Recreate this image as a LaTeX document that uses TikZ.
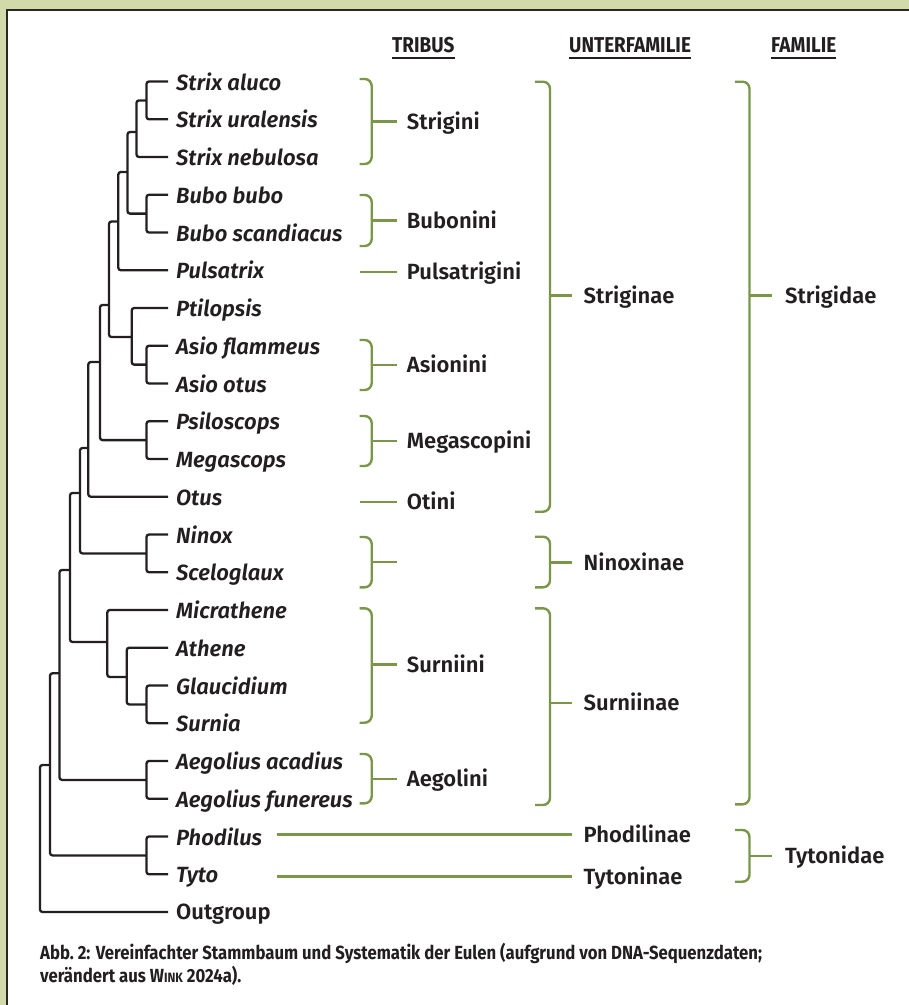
\documentclass[tikz,border=0pt]{standalone}
\usepackage{fontspec}
\setmainfont{Fira Sans}[UprightFont={* SemiBold}, ItalicFont={* SemiBold Italic}, BoldFont={* Bold}]
\newfontfamily\headfont{Fira Sans}[UprightFont={* Bold}, FakeStretch=0.88]
\newfontfamily\capfont{Fira Sans}[UprightFont={* Bold}, FakeStretch=0.88]
\usetikzlibrary{positioning}
\definecolor{framegreen}{RGB}{211,218,170}
\definecolor{framedark}{RGB}{40,40,40}
\definecolor{treeline}{RGB}{35,31,32}
\definecolor{bracegreen}{RGB}{122,150,72}
\tikzset{
  tree/.style={draw=treeline, line width=2.3pt, rounded corners=2.5pt},
  brace/.style={draw=bracegreen, line width=2.4pt, rounded corners=7pt},
  tick/.style={draw=bracegreen, line width=2.4pt},
  tip/.style={anchor=base west, inner sep=0pt, text=treeline, font=\fontsize{22}{24}\selectfont\itshape},
  grp/.style={anchor=base west, inner sep=0pt, text=treeline, font=\fontsize{22}{24}\selectfont},
  head/.style={anchor=base west, inner sep=0pt, text=treeline, font=\headfont\fontsize{21.5}{24}\selectfont},
}
\begin{document}
\begin{tikzpicture}[x=1pt, y=-1pt]
		\useasboundingbox (0,0) rectangle (909,1005);
		\fill[framegreen] (0,0) rectangle (909,1005);
		\fill[white] (7,10) rectangle (909,1005);
		\draw[framedark, line width=1.2pt] (7,1005) -- (7,10) -- (909,10);
		
		% tips
		\foreach \txt [count=\i] in {Strix aluco, Strix uralensis, Strix nebulosa, Bubo bubo, Bubo scandiacus, Pulsatrix, Ptilopsis, Asio flammeus, Asio otus, Psiloscops, Megascops, Otus, Ninox, Sceloglaux, Micrathene, Athene, Glaucidium, Surnia, Aegolius acadius, Aegolius funereus, Phodilus, Tyto}{
			\coordinate (t\i) at (168,{81.5+37.75*(\i-1)});
			\node[tip] (lab\i) at ([xshift=8pt, yshift=-8.5pt]t\i) {\txt};
		}
		\coordinate (t23) at (168,912);
		\node[grp] (lab23) at ([xshift=8pt, yshift=-7.5pt]t23) {Outgroup};
		
		% inner nodes
		\coordinate (n1) at (146.5,100.4);
		\coordinate (n2) at (136.5,132);
		\coordinate (n3) at (146.5,213.6);
		\coordinate (n4) at (127.5,172);
		\coordinate (n5) at (118.3,221.5);
		\coordinate (n6) at (146.5,364.6);
		\coordinate (n7) at (131.7,337);
		\coordinate (n8) at (109,305);
		\coordinate (n9) at (146.5,440.1);
		\coordinate (n10) at (100,362);
		\coordinate (n11) at (88.3,448);
		\coordinate (n12) at (146.5,553.4);
		\coordinate (n13) at (80,493);
		\coordinate (n14) at (146.5,704.4);
		\coordinate (n15) at (126.7,677);
		\coordinate (n16) at (107.3,642);
		\coordinate (n17) at (70,570);
		\coordinate (n18) at (146.5,779.9);
		\coordinate (n19) at (59.5,673.3);
		\coordinate (n20) at (146.5,855.4);
		\coordinate (n21) at (50,765);
		\coordinate (n22) at (40,838);
		
		\draw[tree] (t1) -| (n1) |- (t2);
		\draw[tree] (n1) -| (n2) |- (t3);
		\draw[tree] (t4) -| (n3) |- (t5);
		\draw[tree] (n2) -| (n4) |- (n3);
		\draw[tree] (n4) -| (n5) |- (t6);
		\draw[tree] (t8) -| (n6) |- (t9);
		\draw[tree] (t7) -| (n7) |- (n6);
		\draw[tree] (n5) -| (n8) |- (n7);
		\draw[tree] (t10) -| (n9) |- (t11);
		\draw[tree] (n8) -| (n10) |- (n9);
		\draw[tree] (n10) -| (n11) |- (t12);
		\draw[tree] (t13) -| (n12) |- (t14);
		\draw[tree] (n11) -| (n13) |- (n12);
		\draw[tree] (t17) -| (n14) |- (t18);
		\draw[tree] (t16) -| (n15) |- (n14);
		\draw[tree] (t15) -| (n16) |- (n15);
		\draw[tree] (n13) -| (n17) |- (n16);
		\draw[tree] (t19) -| (n18) |- (t20);
		\draw[tree] (n17) -| (n19) |- (n18);
		\draw[tree] (t21) -| (n20) |- (t22);
		\draw[tree] (n19) -| (n21) |- (n20);
		\draw[tree] (n21) -| (n22) |- (t23);
		
		% headings
		\node[head] (hTribus) at (392,52.5) {TRIBUS};
		\node[head] (hUnter) at (569,52.5) {UNTERFAMILIE};
		\node[head] (hFamilie) at (771,52.5) {FAMILIE};
		\draw[treeline, line width=1.6pt] ([yshift=-5.5pt]hTribus.base west) -- ([yshift=-5.5pt]hTribus.base east);
		\draw[treeline, line width=1.6pt] ([yshift=-5.5pt]hUnter.base west) -- ([yshift=-5.5pt]hUnter.base east);
		\draw[treeline, line width=1.6pt] ([yshift=-5.5pt]hFamilie.base west) -- ([yshift=-5.5pt]hFamilie.base east);
		
		% tribus
		\draw[brace] (359.5,79) -- (371.7,79) -- (371.7,164) -- (359.5,164);
		\coordinate (bStrigini) at (371.7,121.5);
		\coordinate (cStrigini) at (396.7,121.5);
		\draw[tick] (bStrigini) -- (cStrigini);
		\node[grp] (Strigini) at ([xshift=10pt, yshift=-7.5pt]cStrigini) {Strigini};
		
		\draw[brace] (359.5,195) -- (371.7,195) -- (371.7,246) -- (359.5,246);
		\coordinate (bBubonini) at (371.7,220.5);
		\coordinate (cBubonini) at (396.7,220.5);
		\draw[tick] (bBubonini) -- (cBubonini);
		\node[grp] (Bubonini) at ([xshift=10pt, yshift=-7.5pt]cBubonini) {Bubonini};
		
		\coordinate (bPulsatrigini) at (359.5,272);
		\coordinate (cPulsatrigini) at (396.7,272);
		\draw[tick] (bPulsatrigini) -- (cPulsatrigini);
		\node[grp] (Pulsatrigini) at ([xshift=10pt, yshift=-7.5pt]cPulsatrigini) {Pulsatrigini};
		
		\draw[brace] (359.5,340) -- (371.7,340) -- (371.7,390) -- (359.5,390);
		\coordinate (bAsionini) at (371.7,365);
		\coordinate (cAsionini) at (396.7,365);
		\draw[tick] (bAsionini) -- (cAsionini);
		\node[grp] (Asionini) at ([xshift=10pt, yshift=-7.5pt]cAsionini) {Asionini};
		
		\draw[brace] (359.5,416) -- (371.7,416) -- (371.7,466) -- (359.5,466);
		\coordinate (bMegascopini) at (371.7,441);
		\coordinate (cMegascopini) at (396.7,441);
		\draw[tick] (bMegascopini) -- (cMegascopini);
		\node[grp] (Megascopini) at ([xshift=10pt, yshift=-7.5pt]cMegascopini) {Megascopini};
		
		\coordinate (bOtini) at (359.5,502);
		\coordinate (cOtini) at (396.7,502);
		\draw[tick] (bOtini) -- (cOtini);
		\node[grp] (Otini) at ([xshift=10pt, yshift=-7.5pt]cOtini) {Otini};
		
		\draw[brace] (359.5,537) -- (371.7,537) -- (371.7,587.3) -- (359.5,587.3);
		\coordinate (bNinox) at (371.7,562);
		\coordinate (cNinox) at (396.7,562);
		\draw[tick] (bNinox) -- (cNinox);
		
		\draw[brace] (359.5,608.3) -- (371.7,608.3) -- (371.7,722.7) -- (359.5,722.7);
		\coordinate (bSurniini) at (371.7,664.5);
		\coordinate (cSurniini) at (396.7,664.5);
		\draw[tick] (bSurniini) -- (cSurniini);
		\node[grp] (Surniini) at ([xshift=10pt, yshift=-7.5pt]cSurniini) {Surniini};
		
		\draw[brace] (359.5,754) -- (371.7,754) -- (371.7,803.3) -- (359.5,803.3);
		\coordinate (bAegolini) at (371.7,779);
		\coordinate (cAegolini) at (396.7,779);
		\draw[tick] (bAegolini) -- (cAegolini);
		\node[grp] (Aegolini) at ([xshift=10pt, yshift=-7.5pt]cAegolini) {Aegolini};
		
		% unterfamilie
		\draw[brace] (535,81.7) -- (550,81.7) -- (550,511.7) -- (535,511.7);
		\coordinate (bStriginae) at (550,295.5);
		\coordinate (cStriginae) at (572,295.5);
		\draw[tick] (bStriginae) -- (cStriginae);
		\node[grp] (Striginae) at ([xshift=11.5pt, yshift=-7.5pt]cStriginae) {Striginae};
		
		\draw[brace] (535,536.7) -- (550,536.7) -- (550,587.3) -- (535,587.3);
		\coordinate (bNinoxinae) at (550,562.5);
		\coordinate (cNinoxinae) at (572,562.5);
		\draw[tick] (bNinoxinae) -- (cNinoxinae);
		\node[grp] (Ninoxinae) at ([xshift=11.5pt, yshift=-7.5pt]cNinoxinae) {Ninoxinae};
		
		\draw[brace] (535,608.3) -- (550,608.3) -- (550,805) -- (535,805);
		\coordinate (bSurniinae) at (550,703);
		\coordinate (cSurniinae) at (572,703);
		\draw[tick] (bSurniinae) -- (cSurniinae);
		\node[grp] (Surniinae) at ([xshift=11.5pt, yshift=-7.5pt]cSurniinae) {Surniinae};
		
		\coordinate (bPhodilinae) at (277.3,834.5);
		\coordinate (cPhodilinae) at (572,834.5);
		\draw[tick] (bPhodilinae) -- (cPhodilinae);
		\node[grp] (Phodilinae) at ([xshift=11.5pt, yshift=-7.5pt]cPhodilinae) {Phodilinae};
		
		\coordinate (bTytoninae) at (277.3,876.5);
		\coordinate (cTytoninae) at (572,876.5);
		\draw[tick] (bTytoninae) -- (cTytoninae);
		\node[grp] (Tytoninae) at ([xshift=11.5pt, yshift=-7.5pt]cTytoninae) {Tytoninae};
		
		% familie
		\draw[brace] (735,81.7) -- (749.5,81.7) -- (749.5,804.3) -- (735,804.3);
		\coordinate (bStrigidae) at (749.5,295.5);
		\coordinate (cStrigidae) at (772,295.5);
		\draw[tick] (bStrigidae) -- (cStrigidae);
		\node[grp] (Strigidae) at ([xshift=13pt, yshift=-7.5pt]cStrigidae) {Strigidae};
		
		\draw[brace] (735,830) -- (749.5,830) -- (749.5,881.7) -- (735,881.7);
		\coordinate (bTytonidae) at (749.5,856);
		\coordinate (cTytonidae) at (772,856);
		\draw[tick] (bTytonidae) -- (cTytonidae);
		\node[grp] (Tytonidae) at ([xshift=13pt, yshift=-7.5pt]cTytonidae) {Tytonidae};
		
		% caption
		\node[anchor=base west, align=left, inner sep=0pt, text=treeline, font=\capfont\fontsize{19}{22.5}\selectfont] (caption) at (40,982)
			{Abb.~2: Vereinfachter Stammbaum und Systematik der Eulen (aufgrund von DNA-Sequenzdaten;\\verändert aus W{\fontsize{13.5}{13.5}\selectfont INK} 2024a).};
	\end{tikzpicture}
\end{document}
